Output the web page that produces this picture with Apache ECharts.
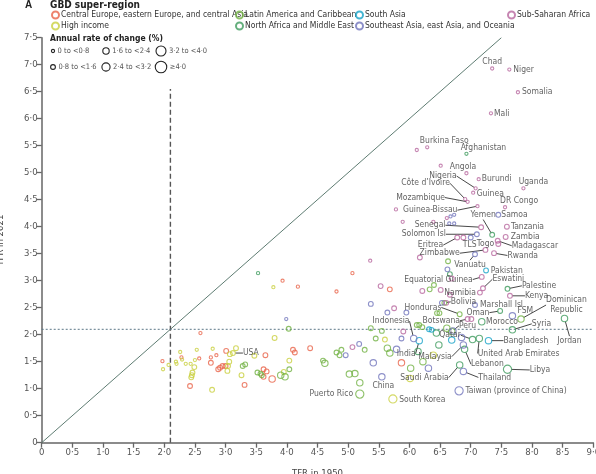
<!DOCTYPE html>
<html><head><meta charset="utf-8">
<script src="https://cdn.jsdelivr.net/npm/echarts@6/dist/echarts.min.js"></script>
<style>html,body{margin:0;padding:0;background:#fff}#c{width:596px;height:474px}</style>
</head><body><div id="c"></div><script>
// ---------- DATA ----------
const REGION_NAMES = [
  'Central Europe, eastern Europe, and central Asia',
  'High income',
  'Latin America and Caribbean',
  'North Africa and Middle East',
  'South Asia',
  'Southeast Asia, east Asia, and Oceania',
  'Sub-Saharan Africa'
];
// [TFR 1950, TFR 2021, optional label]
const CE_POINTS = [[1.97,1.51],[2.28,1.58],[2.57,1.56],[2.59,2.03],[2.42,1.05],[2.76,1.58],[2.85,1.62],[2.76,1.48],[2.88,1.36],[2.91,1.39],[2.95,1.42],[3.00,1.42],[3.01,1.70],[3.31,1.07],[3.65,1.62],[3.62,1.36],[3.67,1.32],[3.62,1.22],[3.76,1.18],[4.10,1.72],[4.13,1.67],[4.38,1.75],[3.93,3.00],[4.18,2.89],[5.07,3.14],[4.81,2.80],[5.68,2.84],[5.87,1.48]];
const HI_POINTS = [[1.98,1.36],[2.07,1.44],[2.26,1.68],[2.19,1.50],[2.20,1.46],[2.29,1.54],[2.35,1.46],[2.43,1.46],[2.53,1.72],[2.50,1.53],[2.49,1.40],[2.46,1.30],[2.45,1.25],[2.44,1.21],[2.78,0.98],[2.79,1.74],[3.03,1.33],[3.12,1.66,'USA'],[3.07,1.64],[3.17,1.75],[3.06,1.50],[3.04,1.42],[3.26,1.25],[3.47,1.61],[3.78,2.88],[3.80,1.94],[4.04,1.52],[3.95,1.31],[5.60,1.91],[5.73,0.81,'South Korea'],[6.01,1.19],[6.39,1.62]];
const LA_POINTS = [[4.03,2.11],[3.28,1.42],[3.32,1.45],[3.52,1.30],[3.57,1.28],[3.59,1.25],[3.90,1.25],[3.97,1.22],[4.04,1.36],[4.59,1.52],[4.62,1.47],[4.81,1.67],[4.86,1.62],[5.02,1.27],[5.11,1.28],[5.19,1.11],[5.19,0.90,'Puerto Rico'],[5.27,1.72],[5.37,2.12],[5.55,2.07],[5.45,1.93],[5.64,1.75],[5.68,1.66],[6.02,1.38],[6.22,1.50],[6.12,2.18],[6.16,2.18],[6.21,2.14],[6.61,2.12],[6.69,2.06,'Peru'],[6.82,2.38,'Honduras'],[6.57,2.59,'Bolivia'],[7.82,2.29,'Dominican Republic'],[6.45,2.40],[6.49,2.40],[6.40,2.92],[6.33,2.84],[6.63,3.36],[4.89,1.72]];
const NA_POINTS = [[6.93,5.35,'Afghanistan'],[7.35,3.85,'Yemen'],[7.60,2.85,'Palestine'],[7.48,2.44,'Oman'],[7.18,2.24,'Morocco'],[7.68,2.09,'Syria'],[8.53,2.30,'Jordan'],[7.03,1.91,'Qatar'],[7.14,1.93,'United Arab Emirates'],[6.90,1.73,'Lebanon'],[6.82,1.44,'Saudi Arabia'],[7.60,1.36,'Libya'],[6.44,2.03],[6.48,1.81],[6.14,1.69],[6.66,3.12],[3.53,3.14]];
const SA_POINTS = [[7.25,3.19,'Pakistan'],[7.29,1.89,'Bangladesh'],[6.16,1.89,'India'],[6.32,2.10],[6.36,2.09],[6.69,1.90]];
const SE_POINTS = [[7.45,4.22,'Samoa'],[7.10,3.86,'Solomon Isl'],[7.00,3.80,'TLS'],[7.07,3.49,'Vanuatu'],[7.07,2.55,'Marshall Isl'],[7.68,2.35,'FSM'],[6.07,1.93,'Indonesia'],[6.88,1.81,'Malaysia'],[6.88,1.32,'Thailand'],[6.81,0.96,'Taiwan (province of China)'],[5.55,1.22,'China'],[6.67,4.19],[6.73,4.22],[6.65,4.06],[6.73,4.06],[6.62,3.21],[5.37,2.57],[5.64,2.41],[5.95,2.41],[6.53,2.59],[5.87,1.93],[5.79,1.73],[5.41,1.48],[4.96,1.62],[6.31,1.38],[6.71,2.07],[3.99,2.29],[5.18,1.83],[6.85,1.95]];
const SSA_POINTS = [[7.35,6.93,'Chad'],[7.63,6.91,'Niger'],[7.77,6.49,'Somalia'],[7.33,6.10,'Mali'],[6.29,5.47,'Burkina Faso'],[6.12,5.42],[6.51,5.13],[6.93,4.99,'Angola'],[7.13,4.88,'Burundi'],[7.08,4.71,'Nigeria'],[7.04,4.63,'Guinea'],[7.86,4.71,'Uganda'],[6.91,4.51,'Côte d’Ivoire'],[6.95,4.46,'Mozambique'],[7.56,4.36,'DR Congo'],[5.78,4.32],[7.11,4.38,'Guinea-Bissau'],[6.61,4.16],[5.89,4.09],[6.39,4.09],[7.17,3.99,'Senegal'],[7.59,4.00,'Tanzania'],[7.57,3.81,'Zambia'],[6.78,3.80,'Eritrea'],[6.88,3.80],[7.44,3.74,'Madagascar'],[7.45,3.68,'Togo'],[7.24,3.57,'Zimbabwe'],[7.38,3.51,'Rwanda'],[6.17,3.43],[5.36,3.37],[7.18,3.07,'Equatorial Guinea'],[6.69,3.04],[7.20,2.86,'Eswatini'],[5.53,2.90],[6.21,2.81],[6.51,2.83],[7.15,2.78,'Namibia'],[6.66,2.74],[7.64,2.72,'Kenya'],[5.75,2.49],[6.95,2.29,'Botswana'],[7.01,2.29],[5.90,2.06],[5.07,1.77],[6.60,2.59]];
const REGION_POINTS = [CE_POINTS, HI_POINTS, LA_POINTS, NA_POINTS, SA_POINTS, SE_POINTS, SSA_POINTS];

const RATE_CLASS_LABELS = ['0 to <0·8','0·8 to <1·6','1·6 to <2·4','2·4 to <3·2','3·2 to <4·0','≥4·0'];
const RATE_CLASS_BREAKS = [0.8, 1.6, 2.4, 3.2, 4.0];
const YEAR_START = 1950, YEAR_END = 2021;
const REPLACEMENT_TFR = 2.1;
const X_MIN = 0, X_MAX = 9, Y_MIN = 0, Y_MAX = 7.5, TICK_STEP = 0.5;

// ---------- STYLE ----------
const REGION_COLORS = ['#e8644a','#c9cf3f','#72b244','#3f9b5e','#16a3c8','#7074bb','#b8689f'];
const SYMBOL_SIZES = [3.2, 4.8, 6.4, 8.2, 10, 11.5];
const NARROW = "'Liberation Sans Narrow','DejaVu Sans Condensed',sans-serif";
const LABEL_TEXT = { 'Dominican Republic': 'Dominican\nRepublic' };
// label anchor offset from point centre (px): [dx, dy, align, leader]
const LABEL_LAYOUT = {
  'Chad':[0,-7,'center',0],'Niger':[4,0,'left',0],'Somalia':[4,0,'left',0],'Mali':[3,0,'left',0],
  'Burkina Faso':[17,-7,'center',0],'Afghanistan':[17,-6.5,'center',0],'Angola':[-3.5,-6,'center',0],
  'Burundi':[3,0,'left',0],'Nigeria':[-19,-12.3,'right',1],'Guinea':[3.5,1,'left',0],'Uganda':[10,-6.5,'center',0],
  'Côte d’Ivoire':[-15.3,-16,'right',1],'Mozambique':[-22.7,-4.3,'right',1],'DR Congo':[14,-6,'center',0],
  'Guinea-Bissau':[-20,4,'right',1],'Yemen':[-9,-20,'center',1],'Samoa':[3,0,'left',0],'Senegal':[-35.7,-2,'right',1],
  'Tanzania':[4,0,'left',0],'Solomon Isl':[-31,0,'right',1],'Zambia':[5,0,'left',0],'Eritrea':[-14,7.6,'right',1],
  'Madagascar':[14,5,'left',1],'TLS':[-1,7,'center',0],'Togo':[-4,0,'right',0],'Zimbabwe':[-25.7,3.3,'right',1],
  'Rwanda':[13.4,2.3,'left',1],'Vanuatu':[-5,10.7,'center',1],'Pakistan':[4.7,0,'left',0],
  'Equatorial Guinea':[-9,2.6,'right',1],'Eswatini':[9.4,-9,'left',1],'Namibia':[-4,0,'right',0],
  'Palestine':[14.4,-3,'left',1],'Kenya':[15,0,'left',1],'Bolivia':[6.4,-1,'left',1],'Marshall Isl':[5,0,'left',0],
  'Honduras':[-18.3,-6.7,'right',1],'Oman':[-10.7,1.7,'right',1],'FSM':[5,-5,'left',0],
  'Dominican Republic':[45.5,-14,'center',1],'Botswana':[-7.7,1.7,'right',1],'Morocco':[4.3,0,'left',0],
  'Indonesia':[-22.7,-17.3,'center',1],'Peru':[7.3,-5.7,'left',1],'Syria':[19.4,-6,'left',1],'Jordan':[5,22.4,'center',1],
  'Qatar':[-11.7,-4.3,'right',1],'United Arab Emirates':[-1.6,15,'left',1],'Bangladesh':[15,0,'left',1],
  'India':[-13,13,'center',1],'Malaysia':[-11.6,11.7,'right',1],'Lebanon':[6.4,15,'left',1],
  'Saudi Arabia':[-11,12.7,'right',1],'Thailand':[15,6,'left',1],'Libya':[22.3,0.7,'left',1],
  'Taiwan (province of China)':[6.4,0,'left',0],'China':[1.5,8.5,'center',0],'Puerto Rico':[-6.7,0,'right',0],
  'South Korea':[6.3,1,'left',0],'USA':[10,0,'left',1]
};

function rateClass(x, y) {
  const r = Math.log(x / y) / (YEAR_END - YEAR_START) * 100;
  let c = 0;
  while (c < RATE_CLASS_BREAKS.length && r >= RATE_CLASS_BREAKS[c]) c++;
  return c;
}
const fmt = v => v === 0 ? '0' : v.toFixed(1).replace('.', '·');

const scatterSeries = REGION_POINTS.map((pts, i) => ({
  type: 'scatter', name: REGION_NAMES[i], symbol: 'circle', z: 3,
  symbolSize: v => SYMBOL_SIZES[rateClass(v[0], v[1])],
  itemStyle: { color: 'rgba(255,255,255,0)', borderColor: REGION_COLORS[i], borderWidth: 1.1 },
  emphasis: { disabled: true },
  data: pts.map(p => p[2]
    ? { value: [p[0], p[1]], name: p[2], label: { show: true }, labelLine: { show: !!(LABEL_LAYOUT[p[2]] || [])[3] } }
    : { value: [p[0], p[1]] }),
  label: { show: false, formatter: p => LABEL_TEXT[p.name] || p.name, fontSize: 8.5, lineHeight: 9.5,
           fontFamily: NARROW, color: '#3a3a3a' },
  labelLine: { show: false, lineStyle: { color: '#333', width: 0.9 } },
  labelLayout: function (params) {
    const p = pts[params.dataIndex];
    if (!p || !p[2] || !LABEL_LAYOUT[p[2]]) return {};
    const L = LABEL_LAYOUT[p[2]];
    const cx = params.rect.x + params.rect.width / 2, cy = params.rect.y + params.rect.height / 2;
    return { x: cx + L[0], y: cy + L[1], align: L[2], verticalAlign: 'middle' };
  }
}));

const refLines = [
  { type: 'line', data: [[X_MIN, Y_MIN], [Y_MAX, Y_MAX]], symbol: 'none', silent: true, z: 1,
    lineStyle: { color: '#5e7c72', width: 1 } },
  { type: 'line', data: [[REPLACEMENT_TFR, Y_MIN], [REPLACEMENT_TFR, 6.55]], symbol: 'none', silent: true, z: 1,
    lineStyle: { color: '#555', width: 1.4, type: [5, 3] } },
  { type: 'line', data: [[X_MIN, REPLACEMENT_TFR], [X_MAX, REPLACEMENT_TFR]], symbol: 'none', silent: true, z: 1,
    lineStyle: { color: '#5d7888', width: 1, type: [2, 2] } }
];

// size legend graphics
const sizeLegend = [];
const colX = [53, 106, 161], rowY = [51, 67];
RATE_CLASS_LABELS.forEach((t, k) => {
  const col = Math.floor(k / 2), row = k % 2;
  const r = SYMBOL_SIZES[k] / 2;
  sizeLegend.push({ type: 'circle', shape: { cx: colX[col], cy: rowY[row], r: r },
    style: { fill: 'none', stroke: '#222', lineWidth: 1.1 } });
  sizeLegend.push({ type: 'text', x: colX[col] + r + 3, y: rowY[row],
    style: { text: t, font: "7.5px 'Liberation Sans Narrow','DejaVu Sans Condensed',sans-serif", fill: '#555', verticalAlign: 'middle' } });
});

const legendBase = { orient: 'vertical', top: 10.5, itemWidth: 7, itemHeight: 7, itemGap: 2, selectedMode: false,
  textStyle: { fontSize: 8.5, fontFamily: NARROW, color: '#333', padding: [0, 0, 0, -3] }, padding: 0 };

const option = {
  animation: false,
  backgroundColor: '#fff',
  grid: { left: 41.7, right: 2.7, top: 37.7, bottom: 31.3, outerBoundsMode: 'none', containLabel: false },
  legend: [
    Object.assign({}, legendBase, { left: 51, data: [REGION_NAMES[0], REGION_NAMES[1]] }),
    Object.assign({}, legendBase, { left: 235, data: [REGION_NAMES[2], REGION_NAMES[3]] }),
    Object.assign({}, legendBase, { left: 355, data: [REGION_NAMES[4], REGION_NAMES[5]] }),
    Object.assign({}, legendBase, { left: 507, data: [REGION_NAMES[6]] })
  ],
  xAxis: {
    type: 'value', min: X_MIN, max: X_MAX, interval: TICK_STEP,
    name: 'TFR in 1950', nameLocation: 'middle', nameGap: 26,
    nameTextStyle: { fontSize: 9.5, fontFamily: NARROW, color: '#444' },
    axisLine: { lineStyle: { color: '#666', width: 1.5 } },
    axisTick: { show: true, length: 5, lineStyle: { color: '#666', width: 1.3 } },
    axisLabel: { formatter: fmt, fontSize: 9.5, fontFamily: NARROW, color: '#555', margin: 5, showMaxLabel: true },
    splitLine: { show: false }
  },
  yAxis: {
    type: 'value', min: Y_MIN, max: Y_MAX, interval: TICK_STEP,
    name: 'TFR in 2021', nameLocation: 'middle', nameGap: 36, nameRotate: 90,
    nameTextStyle: { fontSize: 9.5, fontFamily: NARROW, color: '#444' },
    axisLine: { show: true, lineStyle: { color: '#666', width: 1.5 } },
    axisTick: { show: true, length: 5, lineStyle: { color: '#666', width: 1.3 } },
    axisLabel: { formatter: fmt, fontSize: 9.5, fontFamily: NARROW, color: '#555', margin: 4 },
    splitLine: { show: false }
  },
  graphic: [
    { type: 'text', x: 25, y: 5, style: { text: 'A', font: "bold 10px 'Liberation Sans',sans-serif", fill: '#222', verticalAlign: 'middle' } },
    { type: 'text', x: 50, y: 5, style: { text: 'GBD super-region', font: "bold 10px 'Liberation Sans Narrow','DejaVu Sans Condensed',sans-serif", fill: '#222', verticalAlign: 'middle' } },
    { type: 'text', x: 50, y: 39, style: { text: 'Annual rate of change (%)', font: "bold 8.5px 'Liberation Sans Narrow','DejaVu Sans Condensed',sans-serif", fill: '#222', verticalAlign: 'middle' } }
  ].concat(sizeLegend),
  series: refLines.concat(scatterSeries)
};
const chart = echarts.init(document.getElementById('c'), null, { renderer: 'canvas' });
chart.setOption(option);
</script></body></html>
